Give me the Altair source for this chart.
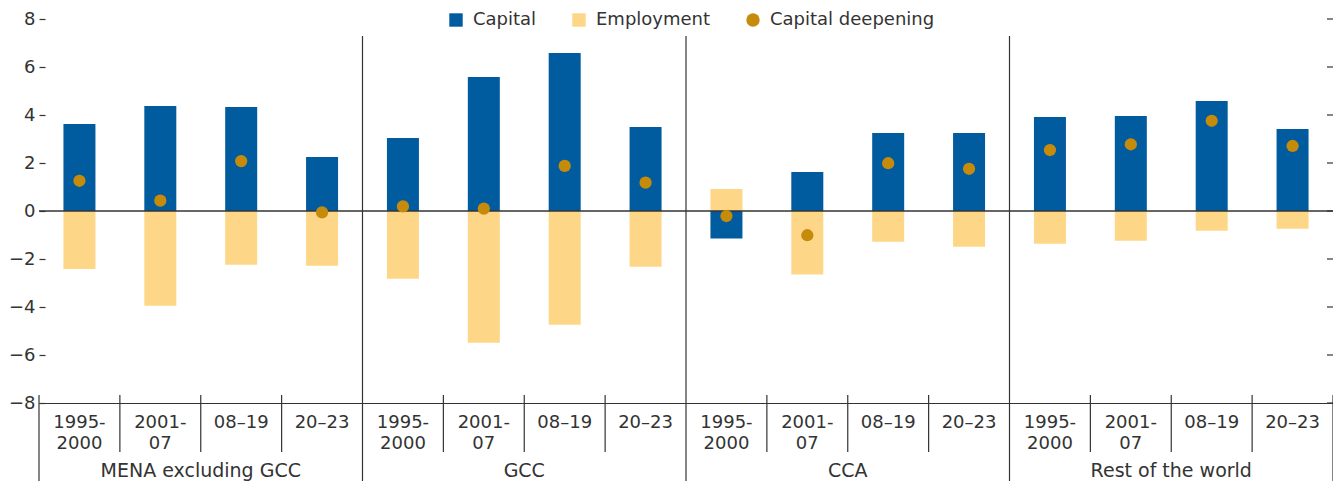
import altair as alt
import pandas as pd

groups = ["MENA excluding GCC", "GCC", "CCA", "Rest of the world"]
periods = ["1995-\n2000", "2001-\n07", "08–19", "20–23"]
series_names = ["Capital", "Employment", "Capital deepening"]
capital = [3.62, 4.38, 4.33, 2.25, 3.04, 5.58, 6.58, 3.50, -1.15, 1.62, 3.25, 3.25, 3.92, 3.96, 4.58, 3.42]
employment = [-2.42, -3.95, -2.24, -2.28, -2.82, -5.49, -4.74, -2.32, 0.92, -2.65, -1.28, -1.49, -1.36, -1.24, -0.82, -0.74]
deepening = [1.26, 0.43, 2.08, -0.06, 0.19, 0.10, 1.88, 1.18, -0.21, -1.01, 1.99, 1.76, 2.54, 2.78, 3.76, 2.71]
y_ticks = [-8, -6, -4, -2, 0, 2, 4, 6, 8]

BLUE = "#005C9E"
YELLOW = "#FDD787"
GOLD = "#C68B0B"
INK = "#333333"
FONT = "DejaVu Sans"

W = 1294
H = 384
n = len(capital)
per_group = len(periods)
slots = [i + 0.5 for i in range(n)]

bar_rows = []
pt_rows = []
lab_rows = []
for i in range(n):
    bar_rows.append({"slot": slots[i], "series": "Capital", "value": capital[i]})
    bar_rows.append({"slot": slots[i], "series": "Employment", "value": employment[i]})
    pt_rows.append({"slot": slots[i], "series": "Capital deepening", "value": deepening[i]})
    lab_rows.append({"slot": slots[i], "period": periods[i % per_group]})
bar_df = pd.DataFrame(bar_rows)
pt_df = pd.DataFrame(pt_rows)
lab_df = pd.DataFrame(lab_rows)
grp_df = pd.DataFrame({"slot": [per_group * g + per_group / 2 for g in range(len(groups))], "group": groups})

period_sep = pd.DataFrame({"x": [i for i in range(1, n) if i % per_group != 0]})
group_sep = pd.DataFrame({"x": [g * per_group for g in range(1, len(groups))]})
edge_sep = pd.DataFrame({"x": [0, n]})

x_scale = alt.Scale(domain=[0, n], nice=False, zero=False, padding=0)
y_scale = alt.Scale(domain=[-8, 8], nice=False, padding=0)
color_scale = alt.Scale(domain=series_names, range=[BLUE, YELLOW, GOLD])
shape_scale = alt.Scale(domain=series_names, range=["square", "square", "circle"])

bars = alt.Chart(bar_df).mark_bar(size=32).encode(
    x=alt.X("slot:Q", scale=x_scale,
            axis=alt.Axis(labels=False, ticks=False, grid=False, domain=True,
                          domainColor=INK, domainWidth=1.2, title=None)),
    y=alt.Y("value:Q", scale=y_scale, stack=None,
            axis=alt.Axis(values=y_ticks, grid=False, domain=False, tickSize=6, offset=-6,
                          labelPadding=4, tickColor=INK, tickWidth=1.2, labelColor=INK,
                          labelFontSize=18, labelFont=FONT, title=None)),
    color=alt.Color("series:N", scale=color_scale, legend=alt.Legend(title=None)),
)

zero = alt.Chart(pd.DataFrame({"y": [0]})).mark_rule(color=INK, strokeWidth=1.3).encode(
    y=alt.Y("y:Q", scale=y_scale))

right_ticks = alt.Chart(pd.DataFrame({"t": y_ticks})).mark_rule(color=INK, strokeWidth=1.2).encode(
    y=alt.Y("t:Q", scale=y_scale), x=alt.value(W - 6), x2=alt.value(W))

points = alt.Chart(pt_df).mark_point(filled=True, size=150, opacity=1).encode(
    x=alt.X("slot:Q", scale=x_scale),
    y=alt.Y("value:Q", scale=y_scale),
    color=alt.Color("series:N", scale=color_scale, legend=alt.Legend(title=None)),
    shape=alt.Shape("series:N", scale=shape_scale, legend=alt.Legend(title=None)),
)

rule_style = dict(color=INK, strokeWidth=1.2)
psep = alt.Chart(period_sep).mark_rule(**rule_style).encode(
    x=alt.X("x:Q", scale=x_scale), y=alt.value(376), y2=alt.value(433))
gsep = alt.Chart(group_sep).mark_rule(**rule_style).encode(
    x=alt.X("x:Q", scale=x_scale), y=alt.value(17), y2=alt.value(464))
esep = alt.Chart(edge_sep).mark_rule(**rule_style).encode(
    x=alt.X("x:Q", scale=x_scale), y=alt.value(376), y2=alt.value(464))

period_text = alt.Chart(lab_df).mark_text(
    fontSize=18, font=FONT, color=INK, align="center", baseline="alphabetic",
    lineBreak="\n", lineHeight=21).encode(
    x=alt.X("slot:Q", scale=x_scale), y=alt.value(409), text="period:N")

group_text = alt.Chart(grp_df).mark_text(
    fontSize=19, font=FONT, color=INK, align="center", baseline="alphabetic").encode(
    x=alt.X("slot:Q", scale=x_scale), y=alt.value(458), text="group:N")

chart = alt.layer(
    bars, zero, right_ticks, points, psep, gsep, esep, period_text, group_text
).properties(
    width=W, height=H,
    autosize=alt.AutoSizeParams(type="none"),
    padding={"left": 31, "top": 11, "right": 0, "bottom": 78},
).configure(font=FONT).configure_view(stroke=None).configure_legend(
    orient="none", direction="horizontal", legendX=408, legendY=-8,
    labelFontSize=18, labelFont=FONT, labelColor=INK, labelLimit=400, symbolSize=180,
    symbolStrokeWidth=0, labelOffset=8, columnPadding=33, padding=0,
)

chart.save("out.html", embed_options={"renderer": "svg", "actions": False})
